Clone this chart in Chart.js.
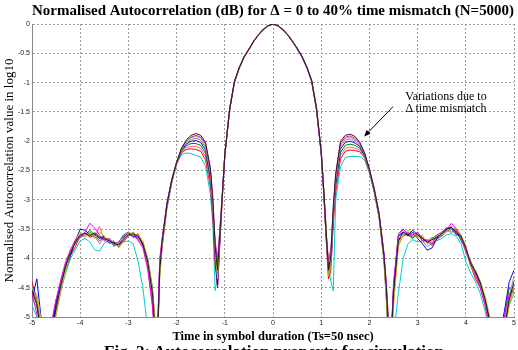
<!DOCTYPE html>
<html>
<head>
<meta charset="utf-8">
<script src="https://cdn.jsdelivr.net/npm/chart.js@4"></script>
<style>
  html, body { margin: 0; padding: 0; background: #fff; }
  #wrap { position: relative; width: 518px; height: 350px; overflow: hidden; }
  #note {
    position: absolute; left: 391px; top: 90px; width: 110px;
    font: 12px "Liberation Serif", serif; line-height: 12.4px;
    text-align: center; color: #000;
  }
  #caption {
    position: absolute; left: 0; top: 342px; width: 548px;
    font: bold 17px "Liberation Serif", serif; text-align: center; color: #000;
    white-space: nowrap;
  }
</style>
</head>
<body>
<div id="wrap">
  <canvas id="chart" width="518" height="350"></canvas>
  <div id="note">Variations due to<br>&Delta; time mismatch</div>
  <div id="caption">Fig. 2: Autocorrelation property for simulation</div>
</div>
<script>
// time lag in symbol durations
const lags = [
  -5.0, -4.9, -4.8, -4.7, -4.6, -4.5, -4.4, -4.3, -4.2, -4.1,
  -4.0, -3.9, -3.8, -3.7, -3.6, -3.5, -3.4, -3.3, -3.2, -3.1,
  -3.0, -2.9, -2.8, -2.7, -2.6, -2.5, -2.45, -2.4, -2.35, -2.3,
  -2.2, -2.1, -2.0, -1.9, -1.8, -1.7, -1.6, -1.5, -1.4, -1.3,
  -1.25, -1.2, -1.15, -1.1, -1.05, -1.0, -0.9, -0.8, -0.7, -0.6,
  -0.5, -0.4, -0.3, -0.2, -0.1, 0,
  0.1, 0.2, 0.3, 0.4, 0.5, 0.6, 0.7, 0.8, 0.9, 1.0,
  1.05, 1.1, 1.15, 1.2, 1.25, 1.3, 1.4, 1.5, 1.6, 1.7,
  1.8, 1.9, 2.0, 2.1, 2.2, 2.3, 2.35, 2.4, 2.45, 2.5,
  2.6, 2.7, 2.8, 2.9, 3.0, 3.1, 3.2, 3.3, 3.4, 3.5,
  3.6, 3.7, 3.8, 3.9, 4.0, 4.1, 4.2, 4.3, 4.4, 4.5,
  4.6, 4.7, 4.8, 4.9, 5.0
];

const mismatchLabels = ['0%', '5%', '10%', '15%', '20%', '25%', '30%', '35%', '40%'];
const lineColors = ['#202020', '#ff00ff', '#bfbf00', '#8c8c8c', '#0000ff', '#008000', '#ff5f9f', '#ff0000', '#00cfcf'];

// log10 of normalised autocorrelation, one list per time mismatch
const delta0 = [
  -4.55, -4.8, -5.3, -5.6, -5.3, -4.85, -4.45, -4.12, -3.9, -3.72,
  -3.6, -3.57, -3.62, -3.56, -3.63, -3.66, -3.7, -3.74, -3.77, -3.68,
  -3.6, -3.58, -3.63, -3.75, -4.05, -4.6, -5.2, -5.5, -4.2, -3.72,
  -3.08, -2.66, -2.36, -2.12, -1.98, -1.9, -1.87, -1.9, -2.02, -2.45,
  -2.95, -3.8, -4.2, -3.55, -2.9, -2.22, -1.45, -0.98, -0.74, -0.56,
  -0.43, -0.29, -0.18, -0.09, -0.03, 0,
  -0.03, -0.09, -0.18, -0.29, -0.41, -0.55, -0.73, -0.96, -1.42, -2.18,
  -2.8, -3.5, -4.2, -3.95, -3.1, -2.55, -2.0, -1.9, -1.88, -1.92,
  -2.02, -2.2, -2.48, -2.82, -3.25, -3.95, -4.5, -5.3, -5.4, -4.6,
  -3.7, -3.55, -3.6, -3.52, -3.6, -3.66, -3.72, -3.68, -3.64, -3.58,
  -3.5, -3.47, -3.55, -3.62, -3.82, -4.1, -4.22, -4.42, -4.7, -5.1,
  -5.5, -5.6, -5.2, -4.7, -4.4
];
const delta5 = [
  -4.6, -4.95, -5.5, -5.5, -5.1, -4.7, -4.35, -4.05, -3.85, -3.68,
  -3.64, -3.55, -3.4, -3.48, -3.6, -3.7, -3.66, -3.75, -3.72, -3.62,
  -3.58, -3.62, -3.68, -3.8, -4.15, -4.8, -5.4, -5.3, -4.0, -3.65,
  -3.05, -2.65, -2.37, -2.13, -2.0, -1.93, -1.9, -1.93, -2.05, -2.49,
  -3.0, -3.7, -4.05, -3.5, -2.88, -2.24, -1.46, -0.99, -0.75, -0.56,
  -0.43, -0.3, -0.18, -0.09, -0.03, 0,
  -0.03, -0.09, -0.18, -0.29, -0.42, -0.56, -0.74, -0.97, -1.44, -2.2,
  -2.85, -3.6, -4.05, -3.9, -3.15, -2.59, -2.03, -1.93, -1.91, -1.95,
  -2.04, -2.21, -2.47, -2.8, -3.22, -3.9, -4.4, -5.2, -5.5, -4.4,
  -3.62, -3.5, -3.58, -3.6, -3.55, -3.7, -3.68, -3.75, -3.6, -3.55,
  -3.52, -3.4, -3.5, -3.66, -3.88, -4.05, -4.28, -4.5, -4.8, -5.2,
  -5.6, -5.4, -5.0, -4.6, -4.55
];
const delta10 = [
  -4.7, -4.6, -5.1, -5.5, -5.4, -4.95, -4.5, -4.2, -3.88, -3.7,
  -3.55, -3.62, -3.58, -3.64, -3.55, -3.62, -3.72, -3.7, -3.8, -3.7,
  -3.55, -3.6, -3.6, -3.7, -4.0, -4.55, -5.0, -5.6, -4.3, -3.8,
  -3.1, -2.68, -2.36, -2.14, -2.01, -1.94, -1.92, -1.95, -2.08, -2.51,
  -3.05, -3.9, -4.35, -3.6, -2.92, -2.21, -1.44, -0.97, -0.74, -0.55,
  -0.42, -0.29, -0.17, -0.09, -0.03, 0,
  -0.03, -0.09, -0.17, -0.28, -0.41, -0.55, -0.73, -0.95, -1.4, -2.16,
  -2.78, -3.45, -4.3, -4.1, -3.2, -2.61, -2.06, -1.95, -1.93, -1.97,
  -2.05, -2.22, -2.5, -2.84, -3.28, -4.0, -4.7, -5.5, -5.2, -4.8,
  -3.8, -3.6, -3.52, -3.58, -3.64, -3.6, -3.76, -3.7, -3.62, -3.6,
  -3.55, -3.5, -3.48, -3.6, -3.78, -4.15, -4.2, -4.38, -4.65, -5.0,
  -5.4, -5.6, -5.3, -4.8, -4.5
];
const delta15 = [
  -4.5, -4.7, -5.2, -5.7, -5.5, -4.9, -4.4, -4.08, -3.86, -3.74,
  -3.65, -3.6, -3.55, -3.62, -3.75, -3.64, -3.68, -3.8, -3.74, -3.66,
  -3.62, -3.55, -3.65, -3.72, -4.1, -4.7, -5.3, -5.4, -4.1, -3.7,
  -3.06, -2.65, -2.35, -2.14, -2.03, -1.97, -1.95, -1.98, -2.11, -2.55,
  -3.1, -3.75, -4.0, -3.45, -2.87, -2.23, -1.45, -0.98, -0.74, -0.57,
  -0.43, -0.3, -0.18, -0.1, -0.03, 0,
  -0.03, -0.1, -0.18, -0.3, -0.42, -0.56, -0.74, -0.97, -1.43, -2.19,
  -2.82, -3.55, -4.0, -3.85, -3.2, -2.65, -2.09, -1.98, -1.96, -1.99,
  -2.07, -2.22, -2.48, -2.83, -3.24, -3.92, -4.45, -5.1, -5.6, -4.7,
  -3.65, -3.58, -3.55, -3.62, -3.58, -3.72, -3.7, -3.64, -3.7, -3.6,
  -3.52, -3.56, -3.5, -3.6, -3.85, -4.08, -4.3, -4.45, -4.75, -5.15,
  -5.5, -5.5, -5.1, -4.65, -4.3
];
const delta20 = [
  -4.7, -4.35, -5.1, -5.6, -5.3, -4.75, -4.4, -4.15, -3.95, -3.7,
  -3.5, -3.52, -3.6, -3.58, -3.66, -3.62, -3.74, -3.72, -3.8, -3.64,
  -3.56, -3.64, -3.6, -3.78, -4.12, -4.75, -5.3, -5.5, -4.15, -3.75,
  -3.08, -2.67, -2.36, -2.16, -2.05, -2.0, -1.99, -2.02, -2.15, -2.6,
  -3.15, -4.0, -4.45, -3.65, -2.9, -2.22, -1.45, -0.98, -0.74, -0.56,
  -0.43, -0.29, -0.18, -0.09, -0.03, 0,
  -0.03, -0.09, -0.18, -0.29, -0.41, -0.55, -0.73, -0.96, -1.42, -2.17,
  -2.8, -3.5, -4.25, -4.1, -3.25, -2.7, -2.13, -2.02, -2.0, -2.03,
  -2.09, -2.24, -2.5, -2.85, -3.26, -3.95, -4.6, -5.4, -5.3, -4.5,
  -3.62, -3.55, -3.62, -3.55, -3.66, -3.75, -3.86, -3.82, -3.66, -3.56,
  -3.48, -3.5, -3.58, -3.64, -3.8, -4.12, -4.25, -4.4, -4.72, -5.05,
  -5.5, -5.3, -4.9, -4.4, -4.2
];
const delta25 = [
  -4.5, -4.75, -5.4, -5.5, -5.2, -4.7, -4.5, -4.1, -3.85, -3.75,
  -3.62, -3.6, -3.52, -3.6, -3.64, -3.68, -3.66, -3.76, -3.72, -3.6,
  -3.55, -3.6, -3.66, -3.74, -4.0, -4.5, -5.1, -5.5, -4.05, -3.7,
  -3.05, -2.66, -2.37, -2.17, -2.08, -2.04, -2.04, -2.07, -2.21, -2.65,
  -3.1, -3.85, -4.15, -3.5, -2.88, -2.24, -1.46, -0.99, -0.75, -0.56,
  -0.43, -0.29, -0.18, -0.09, -0.03, 0,
  -0.03, -0.09, -0.18, -0.29, -0.42, -0.56, -0.74, -0.97, -1.44, -2.2,
  -2.84, -3.6, -4.15, -4.05, -3.3, -2.75, -2.19, -2.07, -2.05, -2.07,
  -2.12, -2.25, -2.49, -2.83, -3.25, -3.9, -4.5, -5.3, -5.5, -4.5,
  -3.58, -3.5, -3.6, -3.66, -3.56, -3.64, -3.74, -3.66, -3.6, -3.62,
  -3.54, -3.5, -3.52, -3.7, -3.84, -4.05, -4.22, -4.48, -4.7, -5.1,
  -5.6, -5.5, -5.0, -4.5, -4.6
];
const delta30 = [
  -4.65, -4.85, -5.2, -5.5, -5.4, -4.95, -4.55, -4.18, -3.92, -3.72,
  -3.6, -3.64, -3.56, -3.66, -3.45, -3.7, -3.72, -3.7, -3.82, -3.7,
  -3.62, -3.56, -3.7, -3.82, -4.2, -4.85, -5.5, -5.4, -4.25, -3.78,
  -3.1, -2.68, -2.38, -2.19, -2.11, -2.09, -2.09, -2.12, -2.26, -2.72,
  -3.2, -3.95, -4.3, -3.6, -2.93, -2.23, -1.45, -0.98, -0.74, -0.56,
  -0.43, -0.3, -0.18, -0.09, -0.03, 0,
  -0.03, -0.09, -0.18, -0.29, -0.41, -0.56, -0.74, -0.97, -1.43, -2.19,
  -2.83, -3.55, -4.1, -4.2, -3.35, -2.81, -2.24, -2.12, -2.1, -2.12,
  -2.15, -2.27, -2.5, -2.84, -3.27, -3.98, -4.55, -5.2, -5.5, -4.75,
  -3.75, -3.6, -3.56, -3.6, -3.62, -3.68, -3.72, -3.74, -3.64, -3.6,
  -3.48, -3.54, -3.56, -3.65, -3.9, -4.1, -4.3, -4.42, -4.68, -5.05,
  -5.5, -5.4, -5.1, -4.75, -4.45
];
const delta35 = [
  -4.4, -4.7, -5.3, -5.6, -5.3, -4.8, -4.38, -4.2, -3.95, -3.8,
  -3.62, -3.56, -3.64, -3.6, -3.7, -3.64, -3.7, -3.78, -3.75, -3.72,
  -3.6, -3.62, -3.58, -3.76, -4.08, -4.65, -5.3, -5.6, -4.2, -3.76,
  -3.12, -2.69, -2.38, -2.2, -2.14, -2.13, -2.14, -2.17, -2.32, -2.78,
  -3.3, -4.1, -4.5, -3.7, -2.95, -2.25, -1.46, -0.99, -0.75, -0.57,
  -0.44, -0.3, -0.18, -0.1, -0.03, 0,
  -0.03, -0.1, -0.18, -0.3, -0.42, -0.56, -0.74, -0.98, -1.45, -2.21,
  -2.86, -3.65, -4.35, -4.2, -3.4, -2.87, -2.3, -2.17, -2.15, -2.16,
  -2.18, -2.28, -2.52, -2.86, -3.3, -4.0, -4.6, -5.4, -5.4, -4.6,
  -3.7, -3.62, -3.58, -3.64, -3.6, -3.66, -3.7, -3.78, -3.66, -3.62,
  -3.5, -3.46, -3.6, -3.6, -3.86, -4.12, -4.35, -4.5, -4.8, -5.2,
  -5.5, -5.6, -5.3, -4.7, -4.5
];
const delta40 = [
  -4.8, -5.0, -5.4, -5.6, -5.4, -4.95, -4.55, -4.25, -4.0, -3.85,
  -3.7, -3.66, -3.72, -3.85, -3.88, -3.74, -3.7, -3.76, -3.8, -3.72,
  -3.7, -3.75, -4.05, -4.5, -5.2, -5.6, -5.6, -5.4, -4.3, -3.82,
  -3.15, -2.72, -2.4, -2.23, -2.2, -2.21, -2.24, -2.27, -2.43, -2.9,
  -3.4, -4.55, -4.3, -3.6, -2.92, -2.24, -1.47, -1.0, -0.76, -0.57,
  -0.44, -0.3, -0.19, -0.1, -0.03, 0,
  -0.03, -0.1, -0.19, -0.3, -0.43, -0.57, -0.75, -0.98, -1.46, -2.22,
  -2.88, -3.6, -4.1, -4.4, -4.55, -3.0, -2.43, -2.28, -2.26, -2.26,
  -2.26, -2.32, -2.55, -2.88, -3.32, -4.05, -4.7, -5.5, -5.6, -5.3,
  -4.6, -4.0, -3.75, -3.68, -3.72, -3.7, -3.8, -3.74, -3.7, -3.66,
  -3.6, -3.58, -3.62, -3.75, -4.05, -4.25, -4.4, -4.6, -4.9, -5.3,
  -5.6, -5.5, -5.2, -4.8, -4.6
];

const allSeries = [delta0, delta5, delta10, delta15, delta20, delta25, delta30, delta35, delta40];

// annotation arrow, in data units (time, log10 value)
const arrowFrom = [2.49, -1.41];
const arrowTo = [1.89, -1.92];

const xTicks = { min: -5, max: 5, step: 1 };
const yTicks = { min: -5, max: 0, step: 0.5 };

const datasets = allSeries.map((vals, i) => ({
    label: 'Δ = ' + mismatchLabels[i],
    data: vals.map((v, j) => ({ x: lags[j], y: v })),
    borderColor: lineColors[i],
    borderWidth: 1,
    pointRadius: 0,
    tension: 0,
    fill: false,
}));

const arrowPlugin = {
    id: 'arrowNote',
    afterDatasetsDraw(chart) {
        const { ctx, scales: { x, y } } = chart;
        const x1 = x.getPixelForValue(arrowFrom[0]);
        const y1 = y.getPixelForValue(arrowFrom[1]);
        const x2 = x.getPixelForValue(arrowTo[0]);
        const y2 = y.getPixelForValue(arrowTo[1]);
        const ang = Math.atan2(y2 - y1, x2 - x1);
        const head = 7;
        ctx.save();
        ctx.strokeStyle = '#000';
        ctx.fillStyle = '#000';
        ctx.lineWidth = 1;
        ctx.beginPath();
        ctx.moveTo(x1, y1);
        ctx.lineTo(x2 - Math.cos(ang) * 4, y2 - Math.sin(ang) * 4);
        ctx.stroke();
        ctx.beginPath();
        ctx.moveTo(x2, y2);
        ctx.lineTo(x2 - head * Math.cos(ang - 0.4), y2 - head * Math.sin(ang - 0.4));
        ctx.lineTo(x2 - head * Math.cos(ang + 0.4), y2 - head * Math.sin(ang + 0.4));
        ctx.closePath();
        ctx.fill();
        ctx.restore();
    },
};

const gridStyle = {
    color: '#9a9a9a',
    lineWidth: 1,
    drawTicks: false,
};
const borderStyle = {
    display: true,
    color: '#8a8a8a',
    width: 1,
    dash: [2, 2],
};
const tickText = (value) => String(value);

new Chart(document.getElementById('chart'), {
    type: 'line',
    data: { datasets },
    options: {
        responsive: false,
        animation: false,
        devicePixelRatio: 1,
        layout: { padding: { left: 0, right: 2, top: 0, bottom: 0 } },
        plugins: {
            legend: { display: false },
            tooltip: { enabled: false },
            title: {
                display: true,
                fullSize: false,
                text: 'Normalised Autocorrelation (dB) for Δ = 0 to 40% time mismatch (N=5000)',
                color: '#000',
                font: { family: 'Liberation Serif', size: 15, weight: 'bold' },
                padding: { top: 2, bottom: 4 },
            },
        },
        scales: {
            x: {
                type: 'linear',
                min: xTicks.min,
                max: xTicks.max,
                grid: gridStyle,
                border: borderStyle,
                ticks: {
                    stepSize: xTicks.step,
                    color: '#222',
                    font: { family: 'Liberation Sans', size: 7 },
                    padding: 2,
                    maxRotation: 0,
                    autoSkip: false,
                    callback: tickText,
                },
                title: {
                    display: true,
                    text: 'Time in symbol duration (Ts=50 nsec)',
                    color: '#000',
                    font: { family: 'Liberation Serif', size: 12.5, weight: 'bold' },
                    padding: { top: 6, bottom: 6 },
                },
                afterFit(scale) { scale.height = 33; },
            },
            y: {
                type: 'linear',
                min: yTicks.min,
                max: yTicks.max,
                grid: gridStyle,
                border: borderStyle,
                ticks: {
                    stepSize: yTicks.step,
                    color: '#222',
                    font: { family: 'Liberation Sans', size: 7 },
                    padding: 2,
                    callback: tickText,
                },
                title: {
                    display: true,
                    text: 'Normalised Autocorrelation value in log10',
                    color: '#000',
                    font: { family: 'Liberation Serif', size: 13 },
                    padding: { top: 2, bottom: 0 },
                },
                afterFit(scale) { scale.width = 32; },
            },
        },
    },
    plugins: [arrowPlugin],
});
</script>
</body>
</html>
